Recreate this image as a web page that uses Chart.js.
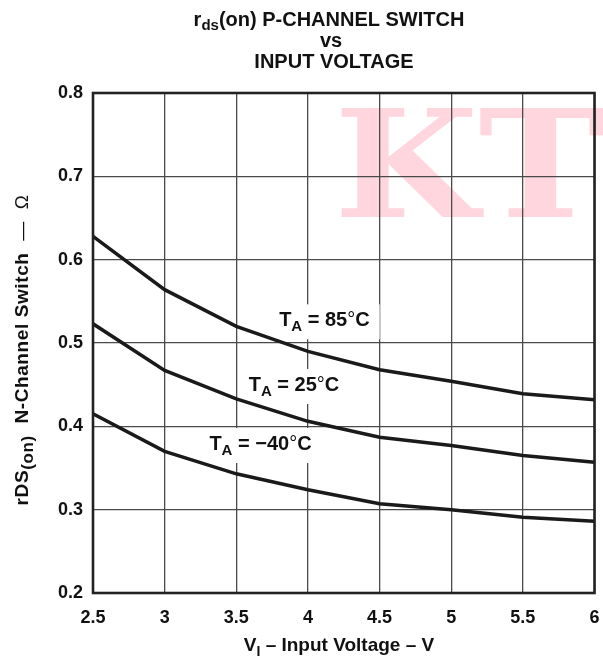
<!DOCTYPE html>
<html>
<head>
<meta charset="utf-8">
<script src="https://cdn.jsdelivr.net/npm/chart.js@4.4.0/dist/chart.umd.min.js"></script>
<style>
  html, body { margin: 0; padding: 0; background: #ffffff; }
  #wrap { width: 603px; height: 658px; position: relative; }
</style>
</head>
<body>
<div id="wrap"><canvas id="c" width="603" height="658"></canvas></div>
<script>
// ---- data ----
const inputVoltage = [2.5, 3, 3.5, 4, 4.5, 5, 5.5, 6];
const rdsOn85C  = [0.628, 0.564, 0.520, 0.490, 0.468, 0.454, 0.439, 0.432];
const rdsOn25C  = [0.523, 0.467, 0.433, 0.406, 0.387, 0.377, 0.365, 0.357];
const rdsOnM40C = [0.415, 0.370, 0.343, 0.324, 0.307, 0.300, 0.291, 0.286];
const xTickLabels = ['2.5', '3', '3.5', '4', '4.5', '5', '5.5', '6'];
const yTickLabels = ['0.2', '0.3', '0.4', '0.5', '0.6', '0.7', '0.8'];
const curveTemps = ['85', '25', '−40'];
const curveLabelX = [4.115, 3.903, 3.669];
const curveLabelY = [0.520, 0.4424, 0.3716];

const FAM = '"Liberation Sans", Arial, Helvetica, sans-serif';

function toPts(ys) { return inputVoltage.map((x, i) => ({ x: x, y: ys[i] })); }

function measureRich(ctx, segs) {
  let w = 0;
  segs.forEach(s => { ctx.font = s.f; w += ctx.measureText(s.t).width; });
  return w;
}
function drawRich(ctx, segs, x, y, align) {
  const w = measureRich(ctx, segs);
  let cx = align === 'center' ? x - w / 2 : x;
  ctx.textBaseline = 'alphabetic';
  ctx.textAlign = 'left';
  segs.forEach(s => {
    ctx.font = s.f;
    ctx.fillText(s.t, cx, y + (s.dy || 0));
    cx += ctx.measureText(s.t).width;
  });
  return w;
}

const decorPlugin = {
  id: 'decor',
  beforeDatasetsDraw(chart) {
    const ctx = chart.ctx;
    const xs = chart.scales.x, ys = chart.scales.y;
    ctx.save();
    curveTemps.forEach((t, i) => {
      const px = xs.getPixelForValue(curveLabelX[i]);
      const py = ys.getPixelForValue(curveLabelY[i]);
      const segs = [
        { t: 'T', f: 'bold 20px ' + FAM },
        { t: 'A', f: 'bold 15px ' + FAM, dy: 5 },
        { t: ' = ' + t, f: 'bold 20px ' + FAM },
        { t: '°', f: '20px ' + FAM },
        { t: 'C', f: 'bold 20px ' + FAM }
      ];
      const w = measureRich(ctx, segs);
      ctx.fillStyle = '#ffffff';
      ctx.fillRect(px - w / 2 - 10, py - 22, w + 20, 35);
      ctx.fillStyle = '#111';
      drawRich(ctx, segs, px, py, 'center');
    });
    ctx.restore();
  },
  afterDraw(chart) {
    const ctx = chart.ctx;
    const a = chart.chartArea;
    ctx.save();
    // plot border
    ctx.strokeStyle = '#222';
    ctx.lineWidth = 2.6;
    ctx.strokeRect(a.left, a.top, a.right - a.left, a.bottom - a.top);
    ctx.fillStyle = '#111';
    // title
    drawRich(ctx, [
      { t: 'r', f: 'bold 20px ' + FAM },
      { t: 'ds', f: 'bold 15px ' + FAM, dy: 4 },
      { t: '(on) P-CHANNEL SWITCH', f: 'bold 20px ' + FAM }
    ], 329, 26, 'center');
    drawRich(ctx, [{ t: 'vs', f: 'bold 20px ' + FAM }], 331, 47, 'center');
    drawRich(ctx, [{ t: 'INPUT VOLTAGE', f: 'bold 20px ' + FAM }], 334, 68, 'center');
    // x title
    drawRich(ctx, [
      { t: 'V', f: 'bold 19px ' + FAM },
      { t: 'I', f: 'bold 14px ' + FAM, dy: 5 },
      { t: ' – Input Voltage – V', f: 'bold 19px ' + FAM }
    ], 339, 651, 'center');
    // y title (rotated)
    ctx.save();
    ctx.translate(28, 350);
    ctx.rotate(-Math.PI / 2);
    ctx.letterSpacing = '0.6px';
    drawRich(ctx, [
      { t: 'rDS', f: 'bold 19px ' + FAM },
      { t: '(on)', f: 'bold 17px ' + FAM, dy: 5 },
      { t: '  N-Channel Switch  ', f: 'bold 19px ' + FAM },
      { t: '—  Ω', f: '19px ' + FAM }
    ], 0, 0, 'center');
    ctx.restore();
    // watermark and white background, underneath everything
    ctx.globalCompositeOperation = 'destination-over';
    ctx.save();
    ctx.translate(334, 217);
    ctx.scale(1.08, 0.97);
    ctx.fillStyle = 'rgb(255,214,222)';
    ctx.font = 'bold 154px "DejaVu Serif", serif';
    ctx.textBaseline = 'alphabetic';
    ctx.textAlign = 'left';
    ctx.fillText('KTT', 0, 0);
    ctx.restore();
    ctx.fillStyle = '#ffffff';
    ctx.fillRect(0, 0, chart.width, chart.height);
    ctx.restore();
  }
};

const lineStyle = { borderColor: '#1a1a1a', borderWidth: 3.5, pointRadius: 0, tension: 0, fill: false };

new Chart(document.getElementById('c'), {
  type: 'line',
  data: {
    datasets: [
      Object.assign({ label: 'TA = 85°C',  data: toPts(rdsOn85C) }, lineStyle),
      Object.assign({ label: 'TA = 25°C',  data: toPts(rdsOn25C) }, lineStyle),
      Object.assign({ label: 'TA = −40°C', data: toPts(rdsOnM40C) }, lineStyle)
    ]
  },
  plugins: [decorPlugin],
  options: {
    responsive: false,
    animation: false,
    devicePixelRatio: 1,
    layout: { padding: { top: 93, right: 8.5, left: 0, bottom: 0 } },
    plugins: { legend: { display: false }, title: { display: false }, tooltip: { enabled: false } },
    scales: {
      x: {
        type: 'linear', min: 2.5, max: 6,
        afterFit(s) { s.height = 65; s.paddingLeft = 0; s.paddingRight = 0; },
        afterBuildTicks(s) { s.ticks = xTickLabels.map(v => ({ value: parseFloat(v) })); },
        ticks: {
          callback: (v, i) => xTickLabels[i],
          color: '#111', font: { family: FAM, size: 18, weight: 'bold' }, padding: 14, maxRotation: 0
        },
        grid: { color: '#4a4a4a', lineWidth: 1.3, drawTicks: false },
        border: { display: false }
      },
      y: {
        type: 'linear', min: 0.2, max: 0.8,
        afterFit(s) { s.width = 93; s.paddingTop = 0; s.paddingBottom = 0; },
        afterBuildTicks(s) { s.ticks = yTickLabels.map(v => ({ value: parseFloat(v) })); },
        ticks: {
          callback: (v, i) => yTickLabels[i],
          color: '#111', font: { family: FAM, size: 18, weight: 'bold' }, padding: 10
        },
        grid: { color: '#4a4a4a', lineWidth: 1.3, drawTicks: false },
        border: { display: false }
      }
    }
  }
});
</script>
</body>
</html>
